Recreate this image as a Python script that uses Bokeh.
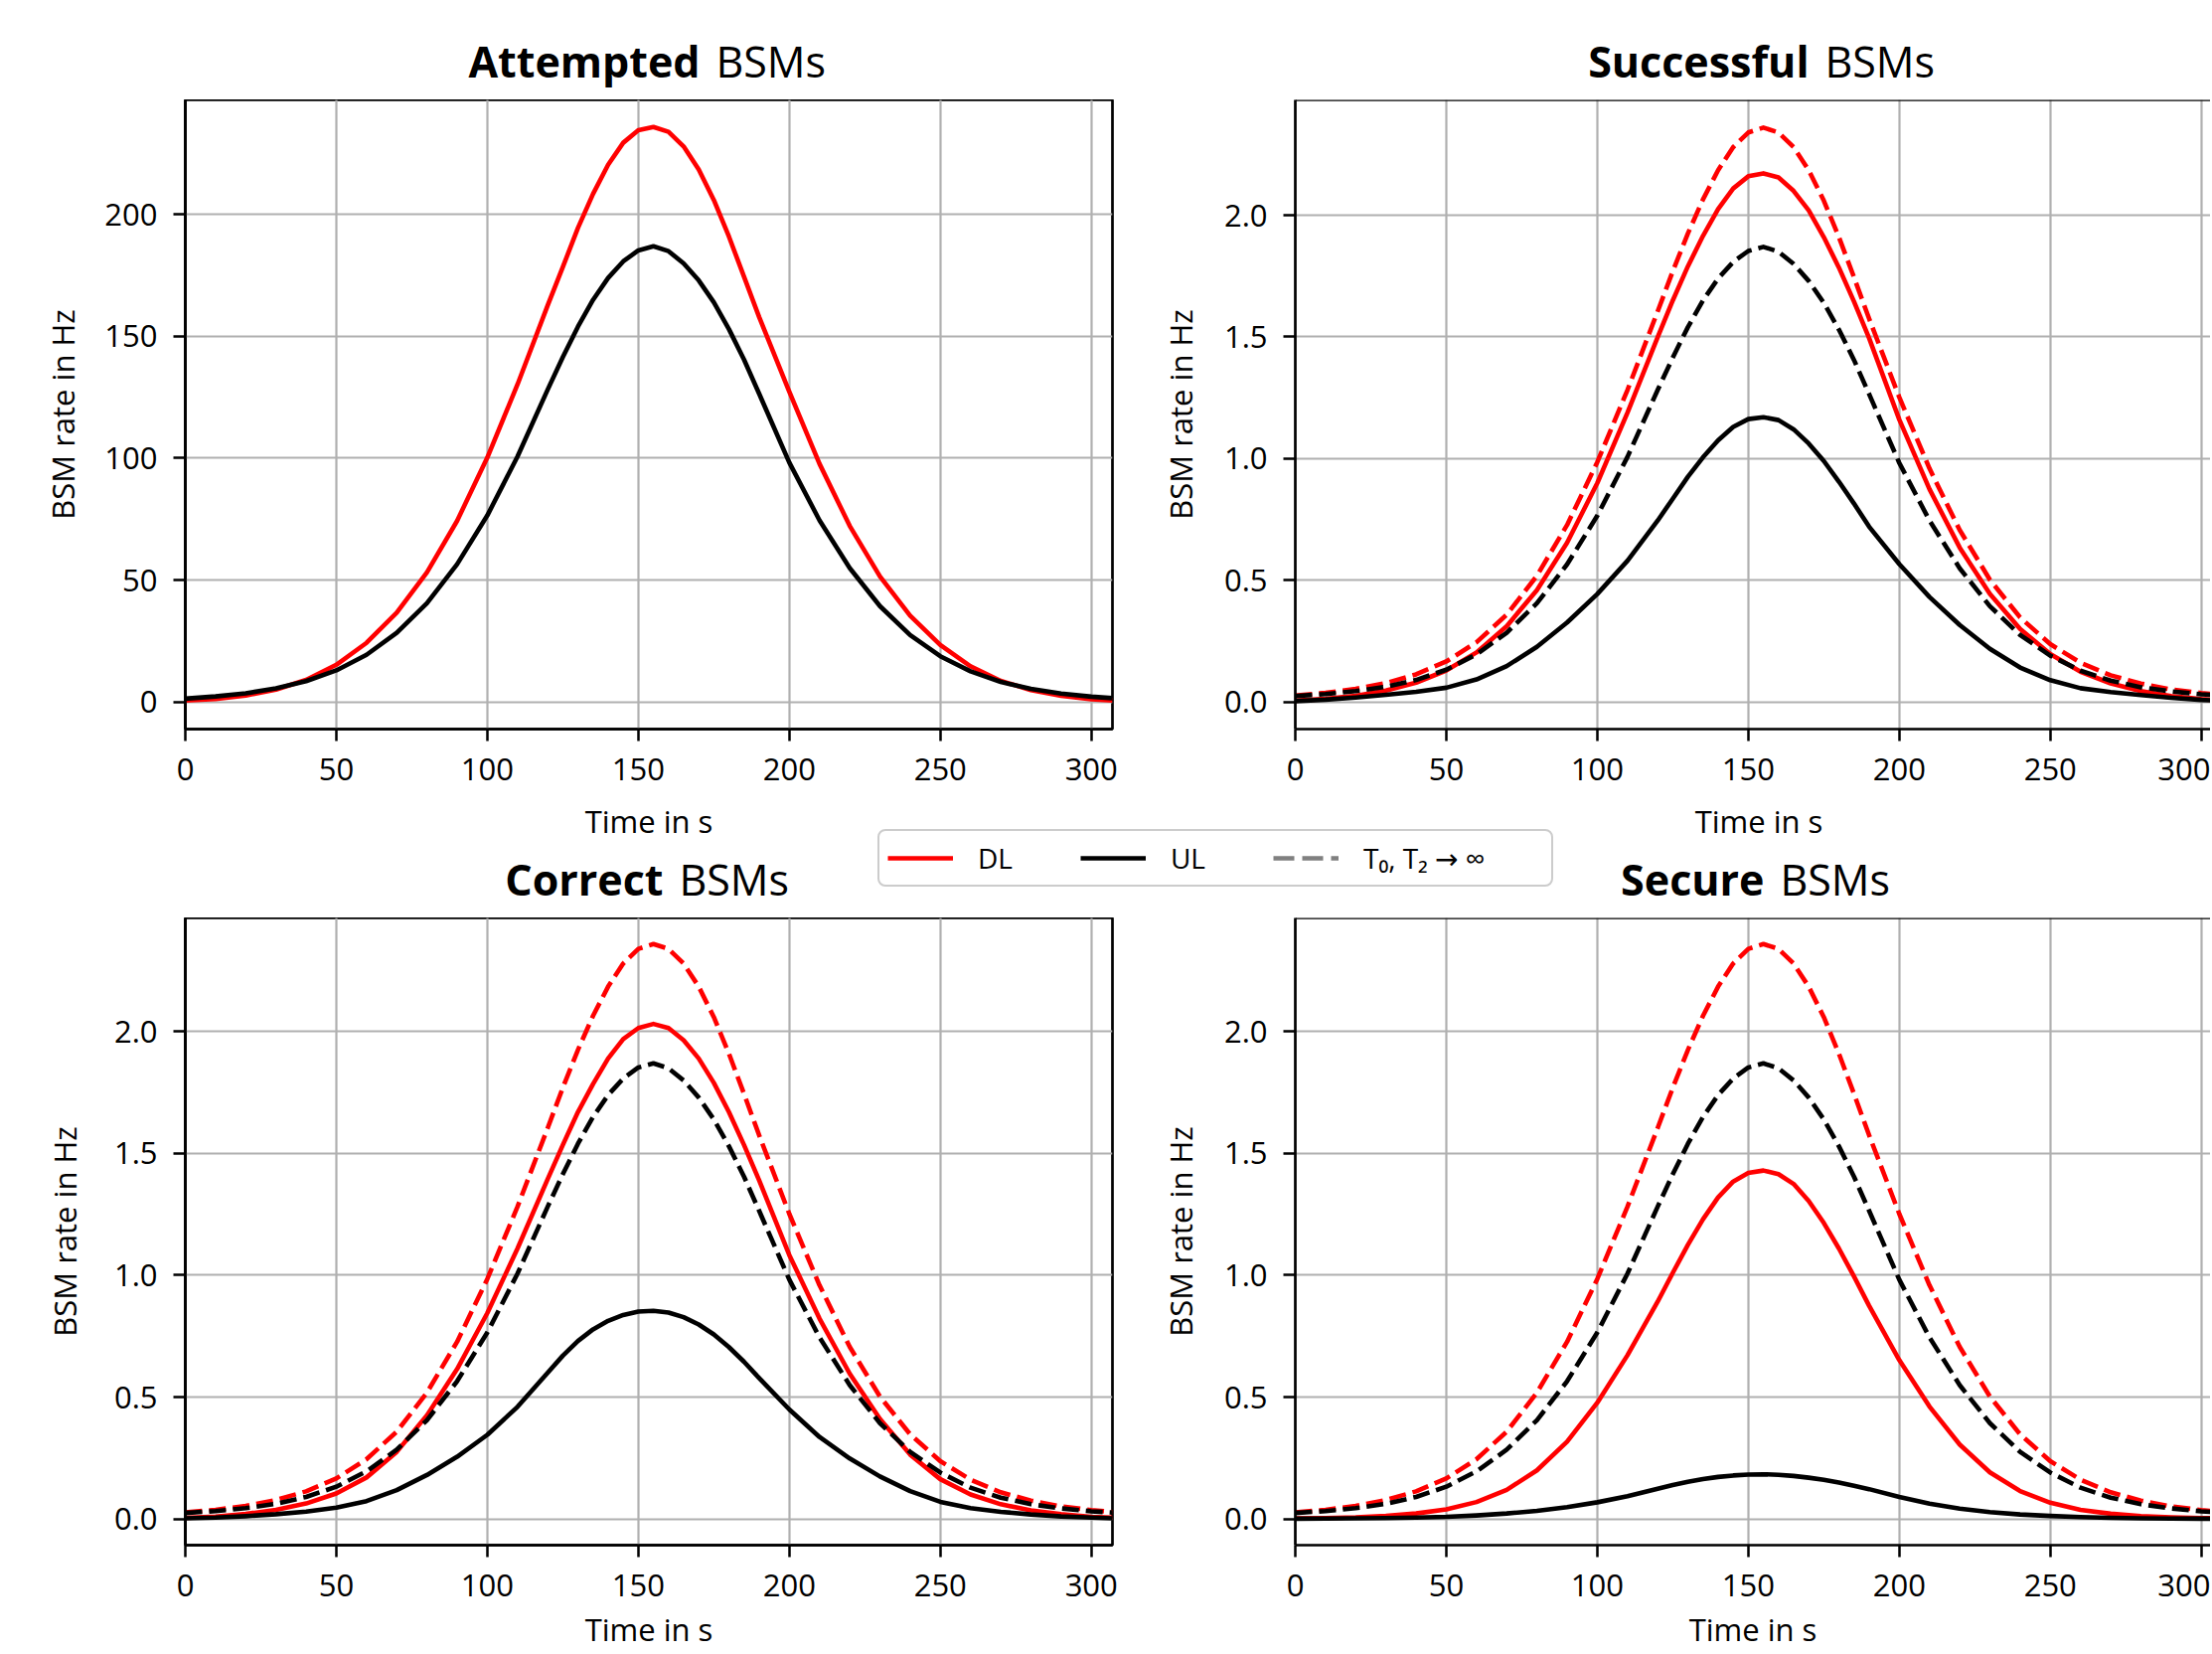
import numpy as np
from bokeh.plotting import figure
from bokeh.models import (ColumnDataSource, FixedTicker, NumeralTickFormatter, Label,
                          Legend, LegendItem, Range1d, Span, LinearAxis)
from bokeh.layouts import column, row
from bokeh.embed import file_html
from bokeh.resources import INLINE

# ---------------- data ----------------
time_s = [0, 10, 20, 30, 40, 50, 60, 70, 80, 90, 100, 110,
          120, 125, 130, 135, 140, 145, 150, 155, 160, 165, 170, 175, 180, 185, 190,
          200, 210, 220, 230, 240, 250, 260, 270, 280, 290, 300, 307]

attempted_dl = [0.5, 1.2, 2.6, 5.0, 9.0, 15.2, 24.2, 36.6, 53.1, 74.3, 100.3, 130.3,
                162.8, 178.5, 194.5, 208.5, 220.5, 229.5, 234.7, 236, 234, 228, 218.5, 206, 191, 174.5, 158,
                127.3, 97.7, 72.2, 51.5, 35.4, 23.3, 14.6, 8.6, 4.8, 2.5, 1.1, 0.6]
attempted_ul = [1.3, 2.2, 3.5, 5.5, 8.5, 12.9, 19.3, 28.3, 40.5, 56.5, 76.5, 100.7,
                128.2, 141.5, 154, 165, 174, 180.8, 185.3, 187, 185, 180, 173, 164, 153, 140.5, 126.5,
                98.2, 74.5, 54.9, 39.3, 27.4, 18.7, 12.5, 8.2, 5.3, 3.4, 2.1, 1.5]

ideal_dl = [0.026, 0.037, 0.053, 0.077, 0.113, 0.166, 0.245, 0.358, 0.518, 0.727, 0.985, 1.282,
            1.605, 1.77, 1.925, 2.065, 2.185, 2.28, 2.34, 2.36, 2.34, 2.28, 2.185, 2.06, 1.91, 1.745, 1.575,
            1.252, 0.959, 0.706, 0.502, 0.347, 0.237, 0.161, 0.109, 0.075, 0.051, 0.036, 0.028]
ideal_ul = [0.024, 0.032, 0.044, 0.062, 0.09, 0.132, 0.195, 0.284, 0.405, 0.565, 0.765, 1.007,
            1.282, 1.415, 1.54, 1.65, 1.74, 1.808, 1.853, 1.87, 1.85, 1.80, 1.73, 1.64, 1.53, 1.405, 1.265,
            0.982, 0.745, 0.549, 0.393, 0.275, 0.19, 0.128, 0.087, 0.06, 0.043, 0.031, 0.026]

successful_dl = [0.005, 0.012, 0.025, 0.046, 0.079, 0.129, 0.203, 0.311, 0.459, 0.654, 0.899, 1.189,
                 1.499, 1.65, 1.79, 1.915, 2.025, 2.11, 2.16, 2.172, 2.155, 2.10, 2.02, 1.91, 1.785, 1.645, 1.495,
                 1.16, 0.874, 0.634, 0.444, 0.30, 0.196, 0.124, 0.076, 0.044, 0.024, 0.011, 0.006]
successful_ul = [0.003, 0.009, 0.018, 0.029, 0.041, 0.058, 0.092, 0.147, 0.226, 0.326, 0.443, 0.58,
                 0.745, 0.835, 0.925, 1.005, 1.075, 1.13, 1.162, 1.17, 1.158, 1.12, 1.062, 0.99, 0.905, 0.815, 0.72,
                 0.566, 0.431, 0.316, 0.218, 0.141, 0.089, 0.056, 0.04, 0.028, 0.017, 0.008, 0.004]

correct_dl = [0.004, 0.009, 0.02, 0.037, 0.063, 0.104, 0.17, 0.275, 0.425, 0.615, 0.845, 1.11,
              1.395, 1.535, 1.67, 1.785, 1.89, 1.97, 2.015, 2.032, 2.015, 1.965, 1.89, 1.79, 1.67, 1.535, 1.39,
              1.083, 0.822, 0.596, 0.41, 0.264, 0.163, 0.10, 0.06, 0.035, 0.019, 0.008, 0.005]
correct_ul = [0.002, 0.005, 0.011, 0.019, 0.030, 0.046, 0.073, 0.118, 0.18, 0.255, 0.345, 0.46,
              0.60, 0.67, 0.73, 0.778, 0.813, 0.837, 0.851, 0.854, 0.847, 0.828, 0.798, 0.757, 0.705, 0.645, 0.578,
              0.449, 0.336, 0.248, 0.174, 0.114, 0.07, 0.044, 0.029, 0.018, 0.01, 0.005, 0.002]

secure_dl = [0.002, 0.003, 0.006, 0.012, 0.022, 0.039, 0.069, 0.119, 0.199, 0.317, 0.477, 0.672,
             0.892, 1.01, 1.125, 1.23, 1.32, 1.385, 1.42, 1.43, 1.415, 1.375, 1.305, 1.215, 1.11, 0.995, 0.875,
             0.652, 0.461, 0.305, 0.191, 0.114, 0.066, 0.037, 0.021, 0.011, 0.006, 0.003, 0.002]
secure_ul = [0.0005, 0.001, 0.002, 0.003, 0.005, 0.008, 0.014, 0.022, 0.033, 0.048, 0.068, 0.093,
             0.124, 0.139, 0.152, 0.163, 0.172, 0.178, 0.182, 0.183, 0.181, 0.176, 0.169, 0.16, 0.149, 0.136, 0.122,
             0.09, 0.062, 0.042, 0.028, 0.018, 0.012, 0.007, 0.004, 0.002, 0.001, 0.0008, 0.0005]

x_ticks = [0, 50, 100, 150, 200, 250, 300]
y_ticks_att = [0, 50, 100, 150, 200]
y_ticks_rate = [0.0, 0.5, 1.0, 1.5, 2.0]

titles = [("Attempted", "BSMs"), ("Successful", "BSMs"), ("Correct", "BSMs"), ("Secure", "BSMs")]
legend_labels = ["DL", "UL", "T\u2080, T\u2082 \u2192 \u221e"]

source = ColumnDataSource(dict(
    t=time_s, att_dl=attempted_dl, att_ul=attempted_ul,
    id_dl=ideal_dl, id_ul=ideal_ul,
    suc_dl=successful_dl, suc_ul=successful_ul,
    cor_dl=correct_dl, cor_ul=correct_ul,
    sec_dl=secure_dl, sec_ul=secure_ul))

# ---------------- style ----------------
FONT = "Open Sans"
RED = "#ff0000"
BLACK = "#000000"
GRID = "#b0b0b0"
LW = 4.6
DASH = "17 7"
TICK_FS = "31px"
TITLE_FS = "43px"
PX_PER_S = 933 / 307.0

LEFT_W = 1131      # frame 186 .. 1119
RIGHT_W = 1093     # frame 1303 .. 2224
TOTAL_W = LEFT_W + RIGHT_W
TOP_STRIP_H = 100
TOP_H = 703
MID_H = 120
BOT_H = 740


def panel(width, height, left_col, top_row, y_range, y_ticks, fmt, lines, ylabel_standoff):
    b_left = 186 if left_col else 172
    b_right = 12 if left_col else 0
    b_bottom = 70 if top_row else 109
    frame_w = width - b_left - b_right
    x_end = frame_w / PX_PER_S
    p = figure(width=width, height=height, title=None,
               x_range=Range1d(0, x_end), y_range=Range1d(*y_range),
               output_backend="svg", toolbar_location=None,
               min_border_left=b_left, min_border_right=b_right,
               min_border_top=0, min_border_bottom=b_bottom)
    p.background_fill_color = "white"
    p.border_fill_color = "white"
    for col, color, dash in lines:
        p.line("t", col, source=source, line_color=color, line_width=LW,
               line_dash=dash, line_join="round", line_cap="butt")
    p.xaxis.ticker = FixedTicker(ticks=x_ticks)
    p.yaxis.ticker = FixedTicker(ticks=y_ticks)
    p.xgrid.ticker = FixedTicker(ticks=x_ticks)
    p.ygrid.ticker = FixedTicker(ticks=y_ticks)
    if fmt:
        p.yaxis.formatter = NumeralTickFormatter(format=fmt)
    p.grid.grid_line_color = GRID
    p.grid.grid_line_width = 2.2
    for ax in p.axis:
        ax.axis_line_width = 2.7
        ax.axis_line_color = BLACK
        ax.major_tick_out = 12
        ax.major_tick_in = 0
        ax.major_tick_line_width = 2.5
        ax.minor_tick_line_color = None
        ax.major_label_text_font = FONT
        ax.major_label_text_font_size = TICK_FS
        ax.major_label_text_color = BLACK
        ax.axis_label_text_font = FONT
        ax.axis_label_text_font_size = TICK_FS
        ax.axis_label_text_font_style = "normal"
        ax.axis_label_text_color = BLACK
    p.xaxis.major_label_standoff = 17
    p.yaxis.major_label_standoff = 16
    p.yaxis.axis_label = "BSM rate in Hz"
    p.yaxis.axis_label_standoff = ylabel_standoff
    if left_col:
        p.outline_line_color = BLACK
        p.outline_line_width = 2.7
    else:
        p.outline_line_color = None
        p.add_layout(Span(location=y_range[1], dimension="width",
                          line_color=BLACK, line_width=2.7))
    if not top_row:
        p.xaxis.axis_label = "Time in s"
        if "axis_label_text_line_height" in LinearAxis.properties():
            p.xaxis.axis_label_text_line_height = 0.45
            p.xaxis.axis_label_standoff = 9
        else:
            p.xaxis.axis_label_standoff = 2
    return p


def strip(height):
    s = figure(width=TOTAL_W, height=height, title=None,
               x_range=Range1d(0, TOTAL_W), y_range=Range1d(0, height),
               x_axis_location=None, y_axis_location=None,
               output_backend="svg", toolbar_location=None, min_border=0)
    s.grid.grid_line_color = None
    s.outline_line_color = None
    s.background_fill_color = "white"
    s.border_fill_color = "white"
    return s


def add_title(s, bold, normal, x_bold_end, x_normal, y):
    s.add_layout(Label(x=x_bold_end, y=y, text=bold, text_font=FONT, text_font_size=TITLE_FS,
                       text_font_style="bold", text_align="right",
                       text_baseline="alphabetic", text_color=BLACK))
    s.add_layout(Label(x=x_normal, y=y, text=normal, text_font=FONT, text_font_size=TITLE_FS,
                       text_font_style="normal", text_align="left",
                       text_baseline="alphabetic", text_color=BLACK))


SOLID = "solid"
p_att = panel(LEFT_W, TOP_H, True, True, (-11.2, 247.1), y_ticks_att, None,
              [("att_dl", RED, SOLID), ("att_ul", BLACK, SOLID)], 18)
p_suc = panel(RIGHT_W, TOP_H, False, True, (-0.112, 2.474), y_ticks_rate, "0.0",
              [("suc_dl", RED, SOLID), ("suc_ul", BLACK, SOLID),
               ("id_dl", RED, DASH), ("id_ul", BLACK, DASH)], 20)
p_cor = panel(LEFT_W, BOT_H, True, False, (-0.108, 2.467), y_ticks_rate, "0.0",
              [("cor_dl", RED, SOLID), ("cor_ul", BLACK, SOLID),
               ("id_dl", RED, DASH), ("id_ul", BLACK, DASH)], 26)
p_sec = panel(RIGHT_W, BOT_H, False, False, (-0.108, 2.467), y_ticks_rate, "0.0",
              [("sec_dl", RED, SOLID), ("sec_ul", BLACK, SOLID),
               ("id_dl", RED, DASH), ("id_ul", BLACK, DASH)], 20)

# top strip with the titles of the upper panels
top_strip = strip(TOP_STRIP_H)
add_title(top_strip, titles[0][0], titles[0][1], 704, 720, 39)
add_title(top_strip, titles[1][0], titles[1][1], 1820, 1836, 39)

# middle strip: x labels of upper panels, legend, titles of lower panels
mid = strip(MID_H)
for xc in (652.5, 1769.5):
    mid.add_layout(Label(x=xc, y=98, text="Time in s", text_font=FONT, text_font_size=TICK_FS,
                         text_align="center", text_baseline="alphabetic", text_color=BLACK))
add_title(mid, titles[2][0], titles[2][1], 667, 683, 39)
add_title(mid, titles[3][0], titles[3][1], 1775, 1791, 39)

nan = np.array([np.nan])
r_dl = mid.line(x=nan, y=nan, line_color=RED, line_width=LW)
r_ul = mid.line(x=nan, y=nan, line_color=BLACK, line_width=LW)
r_id = mid.line(x=nan, y=nan, line_color="#808080", line_width=LW, line_dash="21 8")
legend = Legend(items=[LegendItem(label=legend_labels[0], renderers=[r_dl]),
                       LegendItem(label=legend_labels[1], renderers=[r_ul]),
                       LegendItem(label=legend_labels[2] + "\u00a0" * 8, renderers=[r_id])],
                location=(883, 31), orientation="horizontal",
                glyph_width=66, glyph_height=20, label_standoff=25, spacing=68,
                padding=8, margin=0,
                border_line_color="#cccccc", border_line_width=2.5, border_line_alpha=1.0,
                background_fill_color="white", background_fill_alpha=0.8,
                label_text_font="Open Sans, DejaVu Sans", label_text_font_size="28px",
                label_text_color=BLACK)
if "border_radius" in Legend.properties():
    legend.border_radius = 8
mid.add_layout(legend)

layout = column(top_strip, row(p_att, p_suc), mid, row(p_cor, p_sec))

with open("out.html", "w") as f:
    f.write(file_html(layout, INLINE))
